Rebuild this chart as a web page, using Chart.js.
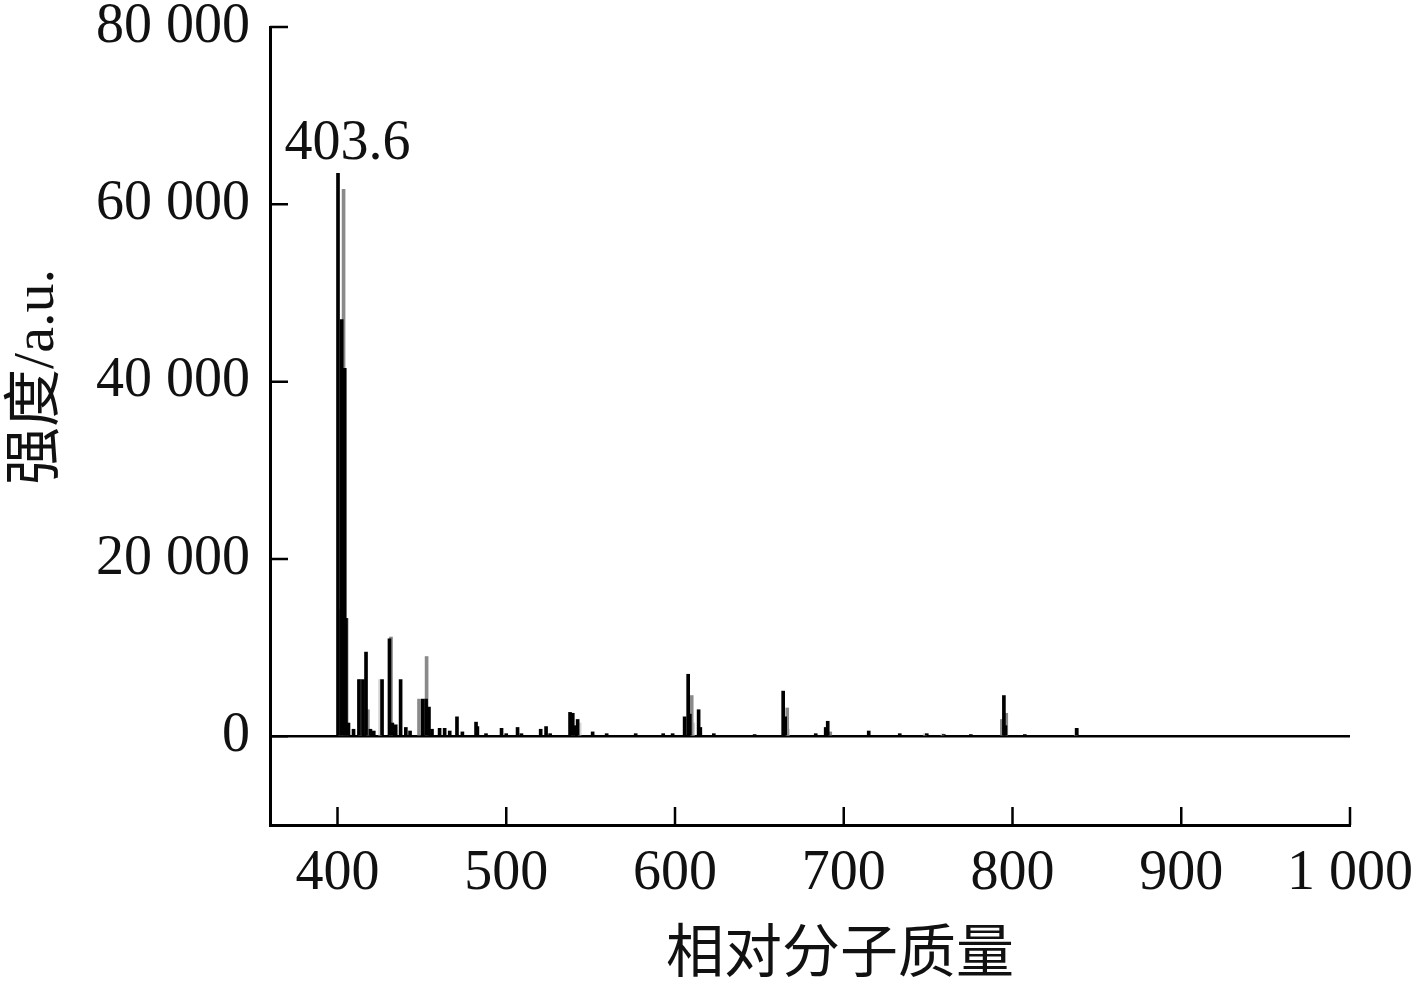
<!DOCTYPE html>
<html>
<head>
<meta charset="utf-8">
<script src="https://cdn.jsdelivr.net/npm/chart.js@4/dist/chart.umd.min.js"></script>
<style>
  html, body { margin: 0; padding: 0; background: #fff; }
  #wrap { width: 1423px; height: 988px; }
</style>
</head>
<body>
<div id="wrap"><canvas id="c" width="1423" height="988"></canvas></div>
<script>
// ---- Data ----
const xTickValues = [400, 500, 600, 700, 800, 900, 1000];
const yTickValues = [0, 20000, 40000, 60000, 80000];
const xTitle = "相对分子质量";
const yTitle = "强度/a.u.";
const peakLabel = "403.6";
const peakLabelMz = 403.6;
const peakLabelIntensity = 61700;

// series 1 (black)
const blackMz = [400.3, 402.5, 404.3, 405.0, 406.5, 409.5, 412.7, 415.1, 416.9, 419.5, 421.5, 426.4, 430.8, 432.5, 434.5, 437.4, 440.5, 443.0, 450.5, 452.5, 454.2, 456.0, 460.5, 463.5, 466.5, 470.8, 474.0, 482.1, 482.9, 488.0, 497.2, 500.0, 506.7, 509.0, 520.4, 523.6, 526.0, 537.8, 539.3, 540.5, 542.3, 551.2, 559.5, 576.7, 593.0, 598.6, 605.7, 607.8, 608.8, 614.0, 615.0, 623.0, 647.2, 664.1, 665.3, 683.4, 689.3, 690.5, 714.8, 733.2, 749.2, 759.3, 775.3, 794.9, 795.8, 807.3, 838.1];
const blackInt = [63500, 47000, 41500, 13300, 1500, 800, 6400, 6400, 9500, 800, 600, 6400, 11000, 1500, 1300, 6400, 1000, 600, 4200, 4200, 3300, 800, 900, 900, 600, 2200, 500, 1600, 1100, 300, 900, 300, 1000, 300, 800, 1100, 300, 2700, 2600, 1200, 1900, 500, 300, 300, 300, 300, 2200, 7000, 2500, 3000, 1000, 300, 200, 5100, 2200, 300, 1000, 1700, 600, 300, 300, 200, 200, 4600, 1200, 200, 900];

// series 2 (grey)
const greyMz = [401.4, 403.6, 405.4, 413.4, 418.0, 431.7, 448.3, 452.8, 539.5, 609.9, 666.5, 692.0, 793.7, 796.3];
const greyInt = [14300, 61700, 13300, 6400, 3000, 11200, 4200, 9000, 2600, 4600, 3200, 500, 1900, 2600];

// series 3 (light grey)
const lightMz = [425.2, 543.5, 610.8, 667.0, 748.0, 758.5, 837.5];
const lightInt = [6400, 1500, 1500, 800, 300, 300, 900];

// ---- Build datasets ----
const toPts = (xs, ys) => xs.map((x, i) => ({ x: x, y: ys[i] }));
const fmt = v => {
  const s = String(Math.round(v));
  return s.length > 3 ? s.slice(0, s.length - 3) + " " + s.slice(-3) : s;
};

const serif = '"Liberation Serif", "Times New Roman", serif';

const inwardTicks = {
  id: 'inwardTicks',
  afterDraw(chart) {
    const { ctx, chartArea, scales } = chart;
    ctx.save();
    ctx.strokeStyle = '#000';
    ctx.lineWidth = 2.5;
    ctx.beginPath();
    xTickValues.forEach(v => {
      const px = scales.x.getPixelForValue(v);
      ctx.moveTo(px, chartArea.bottom);
      ctx.lineTo(px, chartArea.bottom - 18);
    });
    yTickValues.forEach(v => {
      const py = scales.y.getPixelForValue(v);
      ctx.moveTo(chartArea.left, py);
      ctx.lineTo(chartArea.left + 18, py);
    });
    ctx.stroke();

    // peak annotation
    ctx.fillStyle = '#111';
    ctx.font = '56px ' + serif;
    ctx.textAlign = 'center';
    ctx.textBaseline = 'alphabetic';
    ctx.fillText(peakLabel, scales.x.getPixelForValue(peakLabelMz) + 4,
                 scales.y.getPixelForValue(peakLabelIntensity) - 30);

    // axis titles
    ctx.font = '58px "Noto Sans CJK SC", sans-serif';
    ctx.textBaseline = 'middle';
    ctx.fillText(xTitle, (chartArea.left + chartArea.right) / 2 + 30, 950);
    ctx.save();
    ctx.translate(38, 377);
    ctx.rotate(-Math.PI / 2);
    ctx.font = '58px "Liberation Serif", "Noto Sans CJK SC", serif';
    ctx.fillText(yTitle, 0, 0);
    ctx.restore();
    ctx.restore();
  }
};

new Chart(document.getElementById('c'), {
  type: 'bar',
  data: {
    datasets: [
      { label: 'black', data: toPts(blackMz, blackInt), backgroundColor: '#000000', order: 0 },
      { label: 'grey', data: toPts(greyMz, greyInt), backgroundColor: '#8a8a8a', order: 1 },
      { label: 'light', data: toPts(lightMz, lightInt), backgroundColor: '#d6d6d6', order: 2 }
    ]
  },
  options: {
    responsive: false,
    animation: false,
    events: [],
    layout: { padding: { left: 0, top: 27, right: 73, bottom: 0 } },
    datasets: { bar: { barThickness: 3, grouped: false, borderWidth: 0 } },
    plugins: { legend: { display: false }, tooltip: { enabled: false } },
    scales: {
      x: {
        type: 'linear',
        offset: false,
        min: 360, max: 1000,
        afterBuildTicks: s => { s.ticks = xTickValues.map(v => ({ value: v })); },
        afterFit: s => { s.height = 163; s.paddingLeft = 0; s.paddingRight = 0; },
        ticks: { callback: v => fmt(v), font: { family: serif, size: 56 }, color: '#111', padding: 16, maxRotation: 0, autoSkip: false },
        grid: { display: false, drawTicks: false, offset: false },
        border: { display: true, color: '#000', width: 3 }
      },
      y: {
        type: 'linear',
        min: -10000, max: 80000,
        afterBuildTicks: s => { s.ticks = yTickValues.map(v => ({ value: v })); },
        afterFit: s => { s.width = 270; s.paddingTop = 0; s.paddingBottom = 0; },
        ticks: { callback: v => fmt(v), font: { family: serif, size: 56 }, color: '#111', padding: 20, autoSkip: false },
        grid: {
          drawTicks: false,
          color: c => (c.tick && c.tick.value === 0) ? '#000' : 'rgba(0,0,0,0)',
          lineWidth: 2.5
        },
        border: { display: true, color: '#000', width: 3 }
      }
    }
  },
  plugins: [inwardTicks]
});
</script>
</body>
</html>
